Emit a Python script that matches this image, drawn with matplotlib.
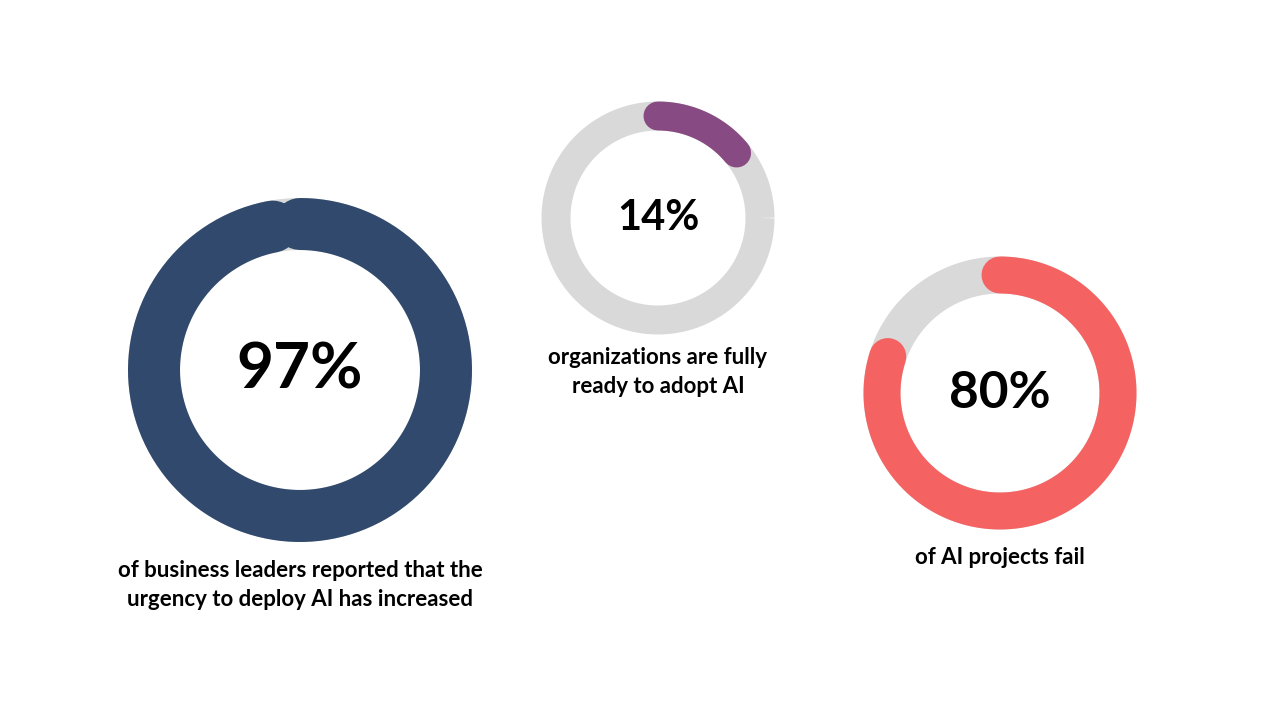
import numpy as np
import matplotlib
matplotlib.use("Agg")
import matplotlib.pyplot as plt

values = [97, 14, 80]
labels = ["97%", "14%", "80%"]
captions = ["of business leaders reported that the\nurgency to deploy AI has increased",
            "organizations are fully\nready to adopt AI",
            "of AI projects fail"]
colors = ["#30496c", "#874a82", "#f46362"]
track = "#d9d9d9"

# layout (pixel units)
centers = [(300, 370), (658, 218), (1000, 393)]
radii = [146, 102, 118]
widths = [52, 29, 37]
fsizes = [46, 30, 37]
cap_y = [585, 372, 557]

fig = plt.figure(figsize=(12.8, 7.2), dpi=100)
ax = fig.add_axes([0, 0, 1, 1])
ax.set_xlim(0, 1280); ax.set_ylim(720, 0); ax.set_aspect("equal"); ax.axis("off")
PT = 0.72
for v, lab, cap, c, (cx, cy), r, w, fs, ty in zip(values, labels, captions, colors, centers, radii, widths, fsizes, cap_y):
    t = np.linspace(0, 2*np.pi, 400)
    ax.plot(cx + r*np.cos(t), cy - r*np.sin(t), color=track, lw=w*PT, solid_capstyle="butt")
    a = np.linspace(np.pi/2, np.pi/2 - 2*np.pi*v/100, 400)
    ax.plot(cx + r*np.cos(a), cy - r*np.sin(a), color=c, lw=w*PT, solid_capstyle="round")
    ax.text(cx, cy, lab, ha="center", va="center", fontsize=fs, fontweight="bold",
            family=["Lato", "DejaVu Sans"], color="black")
    ax.text(cx, ty, cap, ha="center", va="center", fontsize=16, fontweight="bold",
            family=["Lato", "DejaVu Sans"], color="black", linespacing=1.5)
fig.savefig("out.png", dpi=100, facecolor="white")
